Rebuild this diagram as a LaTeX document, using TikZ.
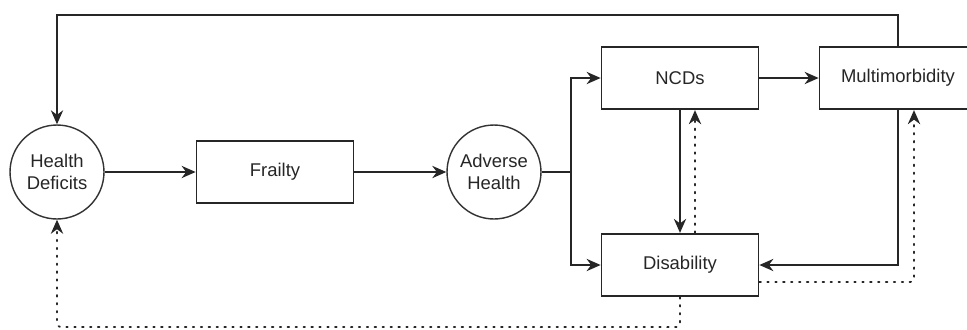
\documentclass[tikz,border=0pt]{standalone}
\usepackage{fontspec}
\setmainfont{Liberation Sans}
\usepackage{xcolor}
\usepackage{tikz}
\usetikzlibrary{arrows.meta, positioning, calc}

\begin{document}
\begin{tikzpicture}[
    x=0.02cm, y=-0.02cm,
    >=Stealth,
    state/.style={circle, draw=black!80, line width=0.8pt, minimum size=1.88cm, inner sep=0pt, font=\fontsize{10.5}{12.6}\selectfont, text=black!85, align=center},
    box/.style={rectangle, draw=black!85, line width=1pt, minimum height=1.25cm, minimum width=3.14cm, font=\fontsize{10.5}{12.6}\selectfont, text=black!85, align=center},
    arrow/.style={->, line width=0.9pt, draw=black!85, >={Stealth[length=8pt, width=7pt]}},
    darrow/.style={->, line width=1pt, draw=black!85, dash pattern=on 0.9pt off 3.6pt, line cap=round, rounded corners=2pt, >={Stealth[length=8pt, width=7pt]}},
]

% === FRAME ===
\clip (0,0) rectangle (967,329);

% === MAIN CHAIN ===
\node[state] (deficits) at (57,172) {Health\\Deficits};
\node[box] (frailty) at (275,172) {Frailty};
\node[state] (adverse) at (494,172) {Adverse\\Health};

% === OUTCOMES ===
\node[box] (ncds) at (680,78) {NCDs};
\node[box] (multi) at (898,78) {Multimorbidity};
\node[box] (disability) at (680,265) {Disability};

\coordinate (split) at (571,172);
\coordinate (topline) at (0,15);
\coordinate (botline) at (0,327);

% === FLOW CONNECTIONS ===
\draw[arrow] (deficits) -- (frailty);
\draw[arrow] (frailty) -- (adverse);

% Adverse Health to outcomes
\draw[line width=0.9pt, draw=black!85] (adverse) -- (split);
\draw[arrow] (split) |- (ncds);
\draw[arrow] (split) |- (disability);

% NCDs and Disability
\draw[arrow] (ncds) -- (disability);
\draw[darrow] ([xshift=0.3cm]disability.north) -- ([xshift=0.3cm]ncds.south);

% NCDs to Multimorbidity
\draw[arrow] (ncds) -- (multi);
\draw[arrow] (multi.south) |- (disability.east);
\draw[darrow] ([yshift=-0.34cm]disability.east) -| ([xshift=0.32cm]multi.south);

% Feedback to Health Deficits
\draw[arrow] (multi.north) -- (multi.north |- topline) -| (deficits.north);
\draw[darrow] (disability.south) -- (disability.south |- botline) -| (deficits.south);

\end{tikzpicture}
\end{document}
